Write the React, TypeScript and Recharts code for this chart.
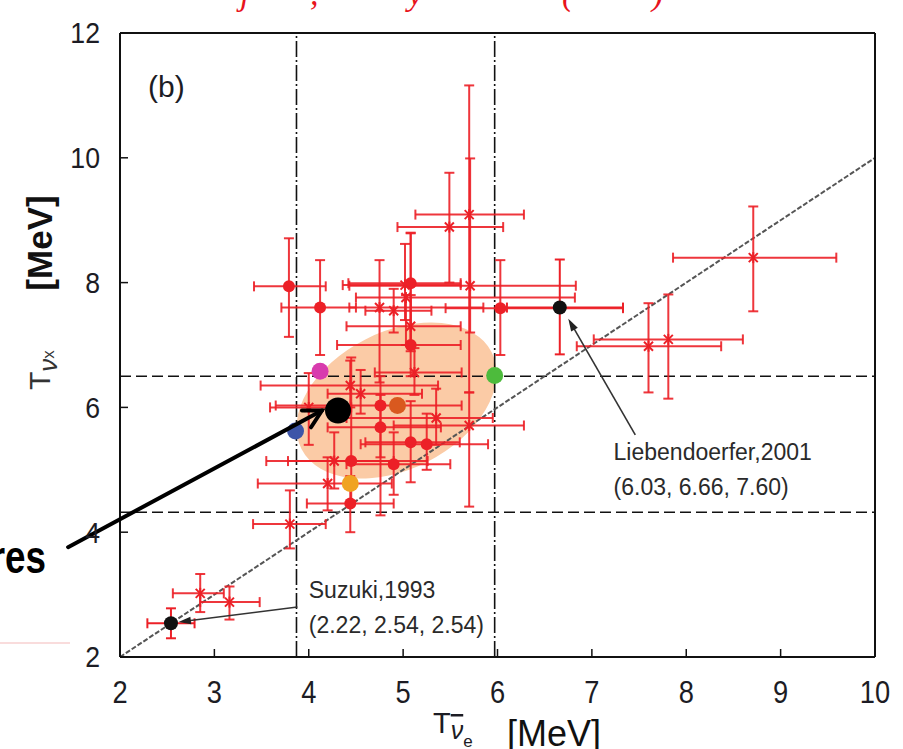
import {
  ErrorBar,
  ReferenceArea,
  ReferenceLine,
  Scatter,
  ScatterChart,
  XAxis,
  YAxis,
} from 'recharts'

const RED = '#ec2027'
const INK = '#1c1c24'
const textFont = "'Liberation Sans', Arial, sans-serif"

const xTicks = [2, 3, 4, 5, 6, 7, 8, 9, 10]
const yTicks = [2, 4, 6, 8, 10, 12]

// model results (red), T_anti-nu_e vs T_nu_x with their ranges
const redX = [3.79, 4.12, 5.7, 5.49, 5.71, 5.08, 5.02, 6.03, 4.75, 4.9, 5.03, 5.08, 5.08, 4.44, 4.76, 4.76, 5.08, 5.25, 4.45, 4.9, 4.44, 4.27, 4.2, 5.7, 5.12, 5.35, 3.8, 2.85, 3.16, 8.71, 7.6, 7.81, 4.0, 4.55]
const redY = [7.94, 7.6, 9.09, 8.89, 7.95, 7.99, 7.96, 7.59, 7.6, 7.55, 7.76, 7.0, 7.3, 6.35, 6.03, 5.68, 5.44, 5.41, 5.14, 5.09, 4.46, 5.14, 4.78, 5.71, 6.56, 5.83, 4.13, 3.02, 2.88, 8.4, 6.98, 7.09, 6.0, 6.22]
const redXLo = [3.42, 3.71, 5.13, 4.94, 4.43, 4.42, 4.36, 5.45, 4.43, 4.6, 4.5, 4.3, 4.4, 3.49, 3.65, 4.2, 4.6, 4.55, 3.78, 4.4, 3.98, 3.55, 3.46, 4.9, 4.7, 4.4, 3.41, 2.56, 2.85, 7.86, 6.84, 7.02, 3.59, 4.2]
const redXHi = [4.18, 4.5, 6.28, 6.06, 6.83, 5.61, 5.61, 7.33, 5.85, 5.3, 6.82, 5.61, 5.61, 5.37, 5.62, 5.4, 5.6, 5.9, 5.26, 5.5, 4.9, 4.9, 4.88, 6.28, 5.62, 5.95, 4.18, 3.1, 3.48, 9.59, 8.37, 8.6, 4.45, 5.2]
const redYLo = [7.13, 6.84, 6.24, 8.0, 7.2, 7.0, 7.4, 6.84, 6.4, 7.2, 7.0, 6.5, 6.9, 6.0, 4.27, 5.2, 4.8, 5.0, 4.5, 4.6, 4.0, 4.7, 4.35, 4.41, 6.2, 5.4, 3.74, 2.72, 2.6, 7.54, 6.24, 6.14, 5.4, 5.9]
const redYHi = [8.71, 8.36, 11.16, 9.76, 9.99, 8.8, 8.62, 8.36, 8.36, 7.9, 7.8, 7.8, 8.79, 6.75, 6.5, 6.2, 6.1, 5.9, 6.8, 5.6, 4.9, 5.6, 5.2, 6.24, 6.95, 6.3, 4.67, 3.33, 3.13, 9.22, 7.67, 7.81, 6.55, 6.6]
const redMarker = ['o', 'o', '*', '*', '*', 'o', '*', 'o', '*', '*', '*', 'o', '*', '*', 'o', 'o', 'o', 'o', 'o', 'o', 'o', '*', '*', '*', '*', '*', '*', '*', '*', '*', '*', '*', '*', '*']

// labelled reference simulations (black)
const refX = [2.54, 6.66]
const refY = [2.54, 7.6]
const refXLo = [2.29, 6.1]
const refXHi = [2.79, 7.33]
const refYLo = [2.3, 6.85]
const refYHi = [2.78, 8.37]

// coloured highlight points
const hiX = [4.31, 4.12, 3.86, 4.94, 5.97, 4.44]
const hiY = [5.95, 6.58, 5.62, 6.03, 6.51, 4.78]
const hiColor = ['#000000', '#d83bae', '#3d55a8', '#d9591f', '#4dbb3c', '#f0a322']
const hiSize = [13, 8.5, 8.5, 8.5, 8.5, 8.5]

// dashed guide lines
const guideX = [3.87, 5.97]
const guideY = [4.32, 6.5]

// shaded region (unrotated box around centre)
const blob = { x1: 3.8, x2: 6.06, y1: 5.01, y2: 7.21 }

// annotation texts
const noteX = [4.0, 7.23]
const noteY = [2.94, 5.15]
const noteText = [
  ['Suzuki,1993', '(2.22, 2.54, 2.54)'],
  ['Liebendoerfer,2001', '(6.03, 6.66, 7.60)'],
]

const arrows = [
  { from: [1.45, 3.76], to: [4.14, 5.95], kind: 'big' },
  { from: [3.88, 2.8], to: [2.62, 2.56], kind: 'thin' },
  { from: [7.46, 5.56], to: [6.75, 7.42], kind: 'thin' },
]

const redData = redX.map((x, i) => ({
  x,
  y: redY[i],
  ex: [x - redXLo[i], redXHi[i] - x],
  ey: [redY[i] - redYLo[i], redYHi[i] - redY[i]],
  m: redMarker[i],
}))
const refData = refX.map((x, i) => ({
  x,
  y: refY[i],
  ex: [x - refXLo[i], refXHi[i] - x],
  ey: [refY[i] - refYLo[i], refYHi[i] - refY[i]],
}))
const hiData = hiX.map((x, i) => ({ x, y: hiY[i], i }))
const noteData = noteX.map((x, i) => ({ x, y: noteY[i], i }))

function RedMark(props: any) {
  const { cx, cy, payload } = props
  if (payload.m === 'o') return <circle cx={cx} cy={cy} r={6} fill={RED} />
  const s = 4.5
  return (
    <g stroke={RED} strokeWidth={2}>
      <line x1={cx - s} y1={cy - s} x2={cx + s} y2={cy + s} />
      <line x1={cx - s} y1={cy + s} x2={cx + s} y2={cy - s} />
      <line x1={cx} y1={cy - s - 1} x2={cx} y2={cy + s + 1} />
    </g>
  )
}

function RefMark(props: any) {
  return <circle cx={props.cx} cy={props.cy} r={7} fill="#111" />
}

function HiMark(props: any) {
  const { cx, cy, payload } = props
  return <circle cx={cx} cy={cy} r={hiSize[payload.i]} fill={hiColor[payload.i]} />
}

function NoteMark(props: any) {
  const { cx, cy, payload } = props
  return (
    <text x={cx} y={cy} fill="#2a2a2a" fontFamily={textFont} fontSize={23}>
      {noteText[payload.i].map((t, k) => (
        <tspan key={k} x={cx} dy={k === 0 ? 0 : 35}>
          {t}
        </tspan>
      ))}
    </text>
  )
}

function XTick(props: any) {
  const { x, y, payload } = props
  return (
    <text
      transform={`translate(${x},${y}) scale(0.88,1)`}
      textAnchor="middle"
      dy="0.71em"
      fontFamily={textFont}
      fontSize={31}
      fill={INK}
    >
      {payload.value}
    </text>
  )
}

function YTick(props: any) {
  const { x, y, payload } = props
  return (
    <text
      transform={`translate(${x},${y}) scale(0.92,1)`}
      textAnchor="end"
      dy="0.355em"
      fontFamily={textFont}
      fontSize={29}
      fill={INK}
    >
      {payload.value}
    </text>
  )
}

function EllipseShape(props: any) {
  const { x, y, width, height } = props
  const cx = x + width / 2
  const cy = y + height / 2
  return (
    <ellipse
      cx={cx}
      cy={cy}
      rx={width / 2}
      ry={height / 2}
      fill="#fbcba6"
      transform={`rotate(-27 ${cx} ${cy})`}
    />
  )
}

function arrowShape(kind: string) {
  return (p: any) => {
    const { x1, y1, x2, y2 } = p
    const a = Math.atan2(y2 - y1, x2 - x1)
    if (kind === 'big') {
      const L = 20
      const w = 0.5
      return (
        <g stroke="#000" strokeWidth={4} fill="none" strokeLinecap="round">
          <line x1={x1} y1={y1} x2={x2} y2={y2} />
          <polyline
            points={`${x2 - L * Math.cos(a - w)},${y2 - L * Math.sin(a - w)} ${x2},${y2} ${x2 - L * Math.cos(a + w)},${y2 - L * Math.sin(a + w)}`}
          />
        </g>
      )
    }
    const L = 13
    const w = 0.3
    return (
      <g>
        <line x1={x1} y1={y1} x2={x2 - 8 * Math.cos(a)} y2={y2 - 8 * Math.sin(a)} stroke="#333" strokeWidth={1.6} />
        <polygon
          fill="#222"
          points={`${x2},${y2} ${x2 - L * Math.cos(a - w)},${y2 - L * Math.sin(a - w)} ${x2 - L * Math.cos(a + w)},${y2 - L * Math.sin(a + w)}`}
        />
      </g>
    )
  }
}

const axisLine = { stroke: '#111', strokeWidth: 2 }
const tickLine = { stroke: '#111', strokeWidth: 1.5 }

export default function App() {
  return (
    <div style={{ position: 'absolute', left: 0, top: 0, width: 903, height: 749, background: '#fff', overflow: 'hidden' }}>
      <ScatterChart width={903} height={749} margin={{ top: 32, right: 27, bottom: 0, left: 0 }}>
        <XAxis
          type="number"
          dataKey="x"
          domain={[2, 10]}
          ticks={xTicks}
          height={92}
          tickSize={-8}
          tickMargin={32}
          tick={<XTick />}
          axisLine={axisLine}
          tickLine={tickLine}
          allowDataOverflow
        />
        <XAxis
          xAxisId="top"
          orientation="top"
          type="number"
          domain={[2, 10]}
          ticks={xTicks}
          height={1}
          tickSize={-8}
          tick={false}
          axisLine={axisLine}
          tickLine={tickLine}
        />
        <YAxis
          type="number"
          dataKey="y"
          domain={[2, 12]}
          ticks={yTicks}
          width={120}
          tickSize={-8}
          tickMargin={28}
          tick={<YTick />}
          axisLine={axisLine}
          tickLine={tickLine}
          allowDataOverflow
        />
        <YAxis
          yAxisId="right"
          orientation="right"
          type="number"
          domain={[2, 12]}
          ticks={yTicks}
          width={1}
          tickSize={-8}
          tick={false}
          axisLine={axisLine}
          tickLine={tickLine}
        />
        <ReferenceArea
          x1={blob.x1}
          x2={blob.x2}
          y1={blob.y1}
          y2={blob.y2}
          shape={EllipseShape}
          zIndex={50}
        />
        {guideX.map((gx) => (
          <ReferenceLine key={'gx' + gx} x={gx} stroke="#111" strokeWidth={1.6} strokeDasharray="16 3 2 3" zIndex={60} />
        ))}
        {guideY.map((gy) => (
          <ReferenceLine key={'gy' + gy} y={gy} stroke="#111" strokeWidth={1.6} strokeDasharray="11 5" zIndex={60} />
        ))}
        <ReferenceLine
          segment={[
            { x: 2, y: 2 },
            { x: 10, y: 10 },
          ]}
          stroke="#555"
          strokeWidth={2}
          strokeDasharray="5 2"
          zIndex={60}
        />
        <Scatter data={redData} shape={RedMark} isAnimationActive={false}>
          <ErrorBar dataKey="ex" direction="x" width={5} stroke={RED} strokeWidth={2} strokeOpacity={0.9} />
          <ErrorBar dataKey="ey" direction="y" width={5} stroke={RED} strokeWidth={2} strokeOpacity={0.9} />
        </Scatter>
        <Scatter data={refData} shape={RefMark} isAnimationActive={false}>
          <ErrorBar dataKey="ex" direction="x" width={5} stroke={RED} strokeWidth={2} />
          <ErrorBar dataKey="ey" direction="y" width={5} stroke={RED} strokeWidth={2} />
        </Scatter>
        <Scatter data={hiData} shape={HiMark} isAnimationActive={false} zIndex={700} />
        {arrows.map((ar, k) => (
          <ReferenceLine
            key={'ar' + k}
            segment={[
              { x: ar.from[0], y: ar.from[1] },
              { x: ar.to[0], y: ar.to[1] },
            ]}
            ifOverflow="visible"
            shape={arrowShape(ar.kind)}
            zIndex={800}
          />
        ))}
        <Scatter data={noteData} shape={NoteMark} isAnimationActive={false} zIndex={800} />
      </ScatterChart>
      <svg width={903} height={749} style={{ position: 'absolute', left: 0, top: 0, pointerEvents: 'none' }}>
        <g fill="#e8141c" fontFamily="'Liberation Serif', 'Times New Roman', serif" fontStyle="italic" fontSize={34}>
          <text x={240} y={5}>j</text>
          <text x={310} y={5}>,</text>
          <text x={408} y={5}>y</text>
          <text x={562} y={5}>(</text>
          <text x={652} y={5}>)</text>
        </g>
        <text x={148} y={97} fontFamily={textFont} fontSize={30} fill={INK}>(b)</text>
        <text transform="translate(52,243) rotate(-90)" textAnchor="middle" fontFamily={textFont} fontWeight="bold" fontSize={35} fill="#111">[MeV]</text>
        <text transform="translate(50,390) rotate(-90)" fontFamily={textFont} fontSize={30} fill="#333">
          T<tspan fontSize={26} fontStyle="italic" dy={7}>ν</tspan><tspan fontSize={17} dy={-3}>x</tspan>
        </text>
        <text x={433} y={733} fontFamily={textFont} fontSize={29} fill={INK}>
          T<tspan fontSize={25} fontStyle="italic" dy={6} textDecoration="overline">ν</tspan><tspan fontSize={17} dy={8}>e</tspan>
        </text>
        <text x={507} y={746} fontFamily={textFont} fontSize={36} fill="#111">[MeV]</text>
        <text transform="translate(46,573) scale(0.8,1)" textAnchor="end" fontFamily={textFont} fontWeight="bold" fontSize={46} fill="#000">res</text>
        <line x1={0} y1={643} x2={70} y2={643} stroke="#f3b9b9" strokeWidth={1} />
      </svg>
    </div>
  )
}
